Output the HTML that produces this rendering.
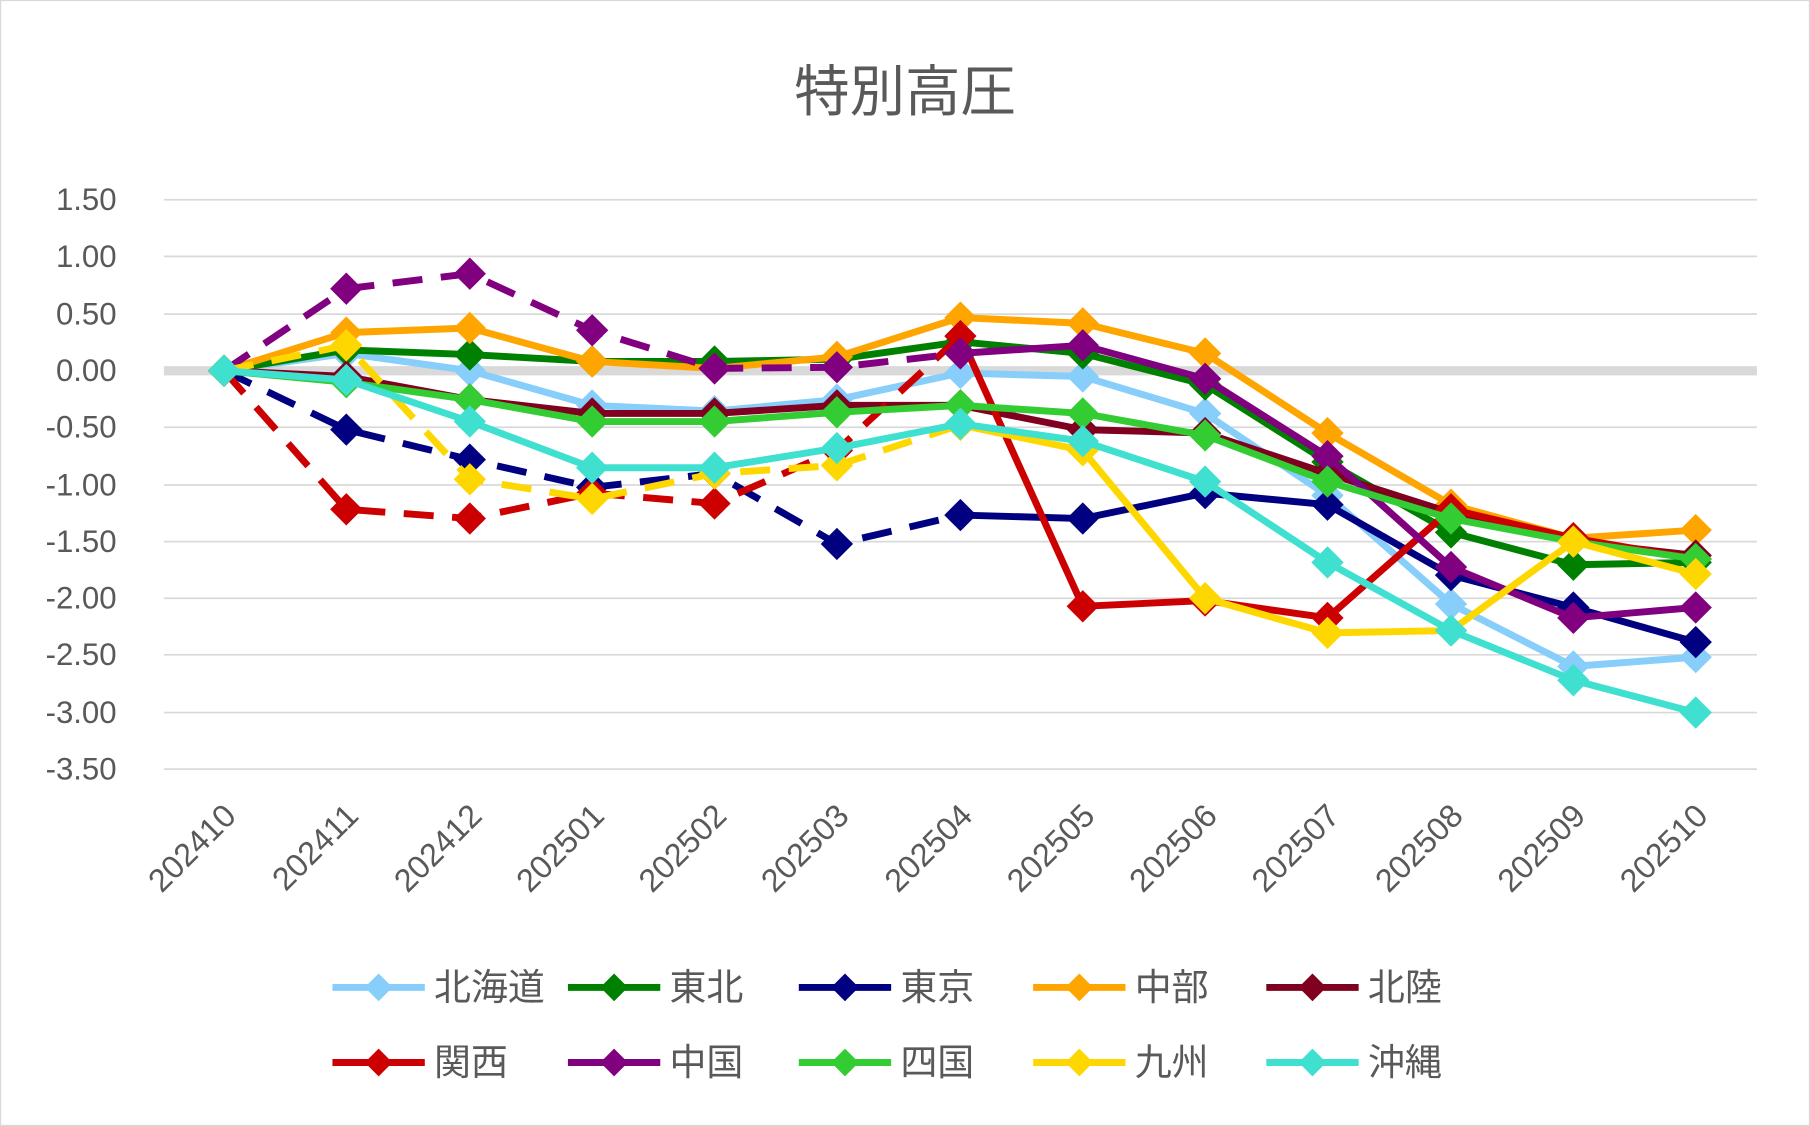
<!DOCTYPE html>
<html><head><meta charset="utf-8"><style>
html,body{margin:0;padding:0;background:#fff}
svg{display:block}
text{font-family:"Liberation Sans","Noto Sans CJK JP",sans-serif;fill:#595959}
</style></head><body>
<svg width="1810" height="1126" viewBox="0 0 1568 975" preserveAspectRatio="none" xmlns="http://www.w3.org/2000/svg">
<defs>
<marker id="m1" viewBox="-14 -14 28 28" markerWidth="28" markerHeight="28" markerUnits="userSpaceOnUse"><polygon points="0,-14 14,0 0,14 -14,0" fill="#87CEFA"/></marker>
<marker id="m2" viewBox="-14 -14 28 28" markerWidth="28" markerHeight="28" markerUnits="userSpaceOnUse"><polygon points="0,-14 14,0 0,14 -14,0" fill="#008000"/></marker>
<marker id="m3" viewBox="-14 -14 28 28" markerWidth="28" markerHeight="28" markerUnits="userSpaceOnUse"><polygon points="0,-14 14,0 0,14 -14,0" fill="#000080"/></marker>
<marker id="m4" viewBox="-14 -14 28 28" markerWidth="28" markerHeight="28" markerUnits="userSpaceOnUse"><polygon points="0,-14 14,0 0,14 -14,0" fill="#FFA500"/></marker>
<marker id="m5" viewBox="-14 -14 28 28" markerWidth="28" markerHeight="28" markerUnits="userSpaceOnUse"><polygon points="0,-14 14,0 0,14 -14,0" fill="#800020"/></marker>
<marker id="m6" viewBox="-14 -14 28 28" markerWidth="28" markerHeight="28" markerUnits="userSpaceOnUse"><polygon points="0,-14 14,0 0,14 -14,0" fill="#CC0000"/></marker>
<marker id="m7" viewBox="-14 -14 28 28" markerWidth="28" markerHeight="28" markerUnits="userSpaceOnUse"><polygon points="0,-14 14,0 0,14 -14,0" fill="#800080"/></marker>
<marker id="m8" viewBox="-14 -14 28 28" markerWidth="28" markerHeight="28" markerUnits="userSpaceOnUse"><polygon points="0,-14 14,0 0,14 -14,0" fill="#33CC33"/></marker>
<marker id="m9" viewBox="-14 -14 28 28" markerWidth="28" markerHeight="28" markerUnits="userSpaceOnUse"><polygon points="0,-14 14,0 0,14 -14,0" fill="#FFD700"/></marker>
<marker id="m10" viewBox="-14 -14 28 28" markerWidth="28" markerHeight="28" markerUnits="userSpaceOnUse"><polygon points="0,-14 14,0 0,14 -14,0" fill="#40E0D0"/></marker>
</defs>
<rect x="0.5" y="0.5" width="1567" height="974" fill="#fff" stroke="#d9d9d9"/>
<text x="784" y="96" font-size="48" text-anchor="middle">特別高圧</text>
<g stroke="#d9d9d9" stroke-width="1.5">
<line x1="142" x2="1522" y1="173" y2="173"/><line x1="142" x2="1522" y1="222" y2="222"/><line x1="142" x2="1522" y1="272" y2="272"/>
<line x1="142" x2="1522" y1="370" y2="370"/><line x1="142" x2="1522" y1="420" y2="420"/><line x1="142" x2="1522" y1="469" y2="469"/>
<line x1="142" x2="1522" y1="518" y2="518"/><line x1="142" x2="1522" y1="567" y2="567"/><line x1="142" x2="1522" y1="617" y2="617"/><line x1="142" x2="1522" y1="666" y2="666"/>
</g>
<line x1="142" x2="1522" y1="321" y2="321" stroke="#d9d9d9" stroke-width="8"/>
<g font-size="27" text-anchor="end">
<text x="101" y="182">1.50</text><text x="101" y="231">1.00</text><text x="101" y="281">0.50</text><text x="101" y="330">0.00</text>
<text x="101" y="379">-0.50</text><text x="101" y="429">-1.00</text><text x="101" y="478">-1.50</text><text x="101" y="527">-2.00</text>
<text x="101" y="576">-2.50</text><text x="101" y="626">-3.00</text><text x="101" y="675">-3.50</text>
</g>
<g font-size="28" text-anchor="end">
<text transform="translate(206,708) rotate(-45)">202410</text>
<text transform="translate(312,708) rotate(-45)">202411</text>
<text transform="translate(419,708) rotate(-45)">202412</text>
<text transform="translate(525,708) rotate(-45)">202501</text>
<text transform="translate(631,708) rotate(-45)">202502</text>
<text transform="translate(737,708) rotate(-45)">202503</text>
<text transform="translate(844,708) rotate(-45)">202504</text>
<text transform="translate(950,708) rotate(-45)">202505</text>
<text transform="translate(1056,708) rotate(-45)">202506</text>
<text transform="translate(1162,708) rotate(-45)">202507</text>
<text transform="translate(1269,708) rotate(-45)">202508</text>
<text transform="translate(1375,708) rotate(-45)">202509</text>
<text transform="translate(1481,708) rotate(-45)">202510</text>
</g>
<g fill="none" stroke-width="6" stroke-linejoin="round">
<polyline stroke="#87CEFA" marker-start="url(#m1)" marker-mid="url(#m1)" marker-end="url(#m1)" points="194,321 300,306 407,321 513,351 619,356 725,346 832,323 938,326 1044,358 1150,429 1257,523 1363,577 1469,569"/>
<polyline stroke="#008000" marker-start="url(#m2)" marker-mid="url(#m2)" marker-end="url(#m2)" points="194,321 300,303 407,307 513,313 619,313 725,311 832,296 938,306 1044,333 1150,400 1257,461 1363,489 1469,487"/>
<polyline stroke="#000080" stroke-dasharray="26 16" marker-start="url(#m3)" marker-mid="url(#m3)" marker-end="url(#m3)" points="194,321 300,372 407,398 513,422 619,410 725,471 832,446"/>
<polyline stroke="#000080" marker-mid="url(#m3)" marker-end="url(#m3)" points="832,446 938,449 1044,427 1150,437 1257,498 1363,526 1469,556"/>
<polyline stroke="#FFA500" marker-start="url(#m4)" marker-mid="url(#m4)" marker-end="url(#m4)" points="194,321 300,288 407,284 513,313 619,319 725,309 832,275 938,280 1044,306 1150,375 1257,437 1363,466 1469,459"/>
<polyline stroke="#800020" marker-start="url(#m5)" marker-mid="url(#m5)" marker-end="url(#m5)" points="194,321 300,326 407,346 513,358 619,358 725,351 832,351 938,372 1044,375 1150,410 1257,444 1363,469 1469,481"/>
<polyline stroke="#CC0000" stroke-dasharray="26 16" marker-start="url(#m6)" marker-mid="url(#m6)" marker-end="url(#m6)" points="194,321 300,441 407,449 513,427 619,436 725,390 832,291"/>
<polyline stroke="#CC0000" marker-mid="url(#m6)" marker-end="url(#m6)" points="832,291 938,525 1044,520 1150,535 1257,441 1363,466 1469,484"/>
<polyline stroke="#800080" stroke-dasharray="26 16" marker-start="url(#m7)" marker-mid="url(#m7)" marker-end="url(#m7)" points="194,321 300,250 407,237 513,286 619,319 725,318 832,306"/>
<polyline stroke="#800080" marker-mid="url(#m7)" marker-end="url(#m7)" points="832,306 938,299 1044,328 1150,395 1257,491 1363,535 1469,526"/>
<polyline stroke="#33CC33" marker-start="url(#m8)" marker-mid="url(#m8)" marker-end="url(#m8)" points="194,321 300,331 407,346 513,365 619,365 725,357 832,351 938,358 1044,377 1150,417 1257,449 1363,469 1469,484"/>
<polyline stroke="#FFD700" stroke-dasharray="26 16" marker-start="url(#m9)" marker-mid="url(#m9)" marker-end="url(#m9)" points="194,321 300,299 407,415 513,432 619,410 725,403 832,368"/>
<polyline stroke="#FFD700" marker-mid="url(#m9)" marker-end="url(#m9)" points="832,368 938,390 1044,518 1150,548 1257,546 1363,469 1469,497"/>
<polyline stroke="#40E0D0" marker-start="url(#m10)" marker-mid="url(#m10)" marker-end="url(#m10)" points="194,321 300,329 407,365 513,405 619,405 725,388 832,367 938,382 1044,417 1150,487 1257,546 1363,589 1469,617"/>
</g>
<g stroke-width="6" font-size="32">
<line x1="288" x2="368" y1="855" y2="855" stroke="#87CEFA"/><polygon points="328,843 340,855 328,867 316,855" fill="#87CEFA" stroke="none"/><text x="376" y="866" stroke="none">北海道</text>
<line x1="492" x2="572" y1="855" y2="855" stroke="#008000"/><polygon points="532,843 544,855 532,867 520,855" fill="#008000" stroke="none"/><text x="580" y="866" stroke="none">東北</text>
<line x1="692" x2="772" y1="855" y2="855" stroke="#000080"/><polygon points="732,843 744,855 732,867 720,855" fill="#000080" stroke="none"/><text x="780" y="866" stroke="none">東京</text>
<line x1="895" x2="975" y1="855" y2="855" stroke="#FFA500"/><polygon points="935,843 947,855 935,867 923,855" fill="#FFA500" stroke="none"/><text x="983" y="866" stroke="none">中部</text>
<line x1="1097" x2="1177" y1="855" y2="855" stroke="#800020"/><polygon points="1137,843 1149,855 1137,867 1125,855" fill="#800020" stroke="none"/><text x="1185" y="866" stroke="none">北陸</text>
<line x1="288" x2="368" y1="920" y2="920" stroke="#CC0000"/><polygon points="328,908 340,920 328,932 316,920" fill="#CC0000" stroke="none"/><text x="376" y="931" stroke="none">関西</text>
<line x1="492" x2="572" y1="920" y2="920" stroke="#800080"/><polygon points="532,908 544,920 532,932 520,920" fill="#800080" stroke="none"/><text x="580" y="931" stroke="none">中国</text>
<line x1="692" x2="772" y1="920" y2="920" stroke="#33CC33"/><polygon points="732,908 744,920 732,932 720,920" fill="#33CC33" stroke="none"/><text x="780" y="931" stroke="none">四国</text>
<line x1="895" x2="975" y1="920" y2="920" stroke="#FFD700"/><polygon points="935,908 947,920 935,932 923,920" fill="#FFD700" stroke="none"/><text x="983" y="931" stroke="none">九州</text>
<line x1="1097" x2="1177" y1="920" y2="920" stroke="#40E0D0"/><polygon points="1137,908 1149,920 1137,932 1125,920" fill="#40E0D0" stroke="none"/><text x="1185" y="931" stroke="none">沖縄</text>
</g>
</svg>
</body></html>
